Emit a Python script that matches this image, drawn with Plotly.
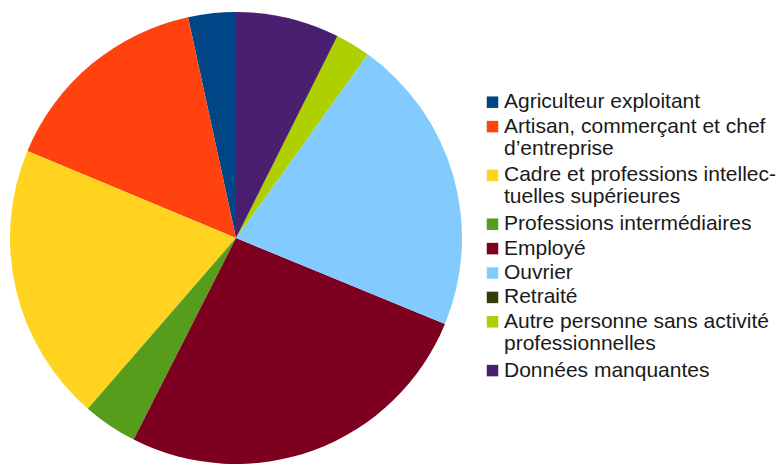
import plotly.graph_objects as go

labels = [
    "Agriculteur exploitant",
    "Artisan, commerçant et chef<br>d’entreprise",
    "Cadre et professions intellec-<br>tuelles supérieures",
    "Professions intermédiaires",
    "Employé",
    "Ouvrier",
    "Retraité",
    "Autre personne sans activité<br>professionnelles",
    "Données manquantes",
]
values = [3.4, 15.3, 19.9, 3.9, 26.25, 21.3, 0, 2.5, 7.4]
colors = ["#004586", "#ff420e", "#ffd320", "#579d1c", "#7e0021",
          "#83caff", "#314004", "#aecf00", "#4b1f6f"]

W, H = 780, 464
r = (H - 12) / 2
cx = 236

# Plotly's counterclockwise pies put the first slice clockwise of the start
# angle; rotate back so the first slice begins at 12 o'clock going left.
rot = -360.0 * values[0] / sum(values)

fig = go.Figure(go.Pie(
    labels=[l.replace("<br>", " ") for l in labels],
    values=values,
    sort=False,
    direction="counterclockwise",
    rotation=rot,
    textinfo="none",
    hoverinfo="label+percent",
    marker=dict(colors=colors, line=dict(width=0)),
    domain=dict(x=[(cx - r) / W, (cx + r) / W], y=[0, 1 - 12 / H]),
    showlegend=False,
))

# Legend drawn with shapes + annotations (LibreOffice-like spacing)
FS = 21
slot = 24.4
line_gap = 22
base0 = 108.0
sq = 11.5
sq_cx = 492.5
text_x = 503
slot_i = 0
shapes = []
annotations = []
for lab, col in zip(labels, colors):
    lines = lab.split("<br>")
    b = base0 + slot * slot_i
    sc = b - 5.8
    shapes.append(dict(
        type="rect", xref="paper", yref="paper",
        x0=(sq_cx - sq / 2) / W, x1=(sq_cx + sq / 2) / W,
        y0=1 - (sc + sq / 2) / H, y1=1 - (sc - sq / 2) / H,
        fillcolor=col, line=dict(width=0),
    ))
    for j, ln in enumerate(lines):
        bl = b + j * line_gap
        cy = bl - 7.3
        annotations.append(dict(
            text=ln, xref="paper", yref="paper",
            x=text_x / W, y=1 - cy / H,
            xanchor="left", yanchor="middle",
            showarrow=False, align="left",
            font=dict(family="Liberation Sans", size=FS, color="#1a1a1a"),
            borderpad=0,
        ))
    slot_i += len(lines)

fig.update_layout(
    width=W, height=H,
    margin=dict(l=0, r=0, t=0, b=0),
    paper_bgcolor="white",
    plot_bgcolor="white",
    font=dict(family="Liberation Sans", size=FS, color="#1a1a1a"),
    showlegend=False,
    shapes=shapes,
    annotations=annotations,
)

fig.write_html("out.html")
